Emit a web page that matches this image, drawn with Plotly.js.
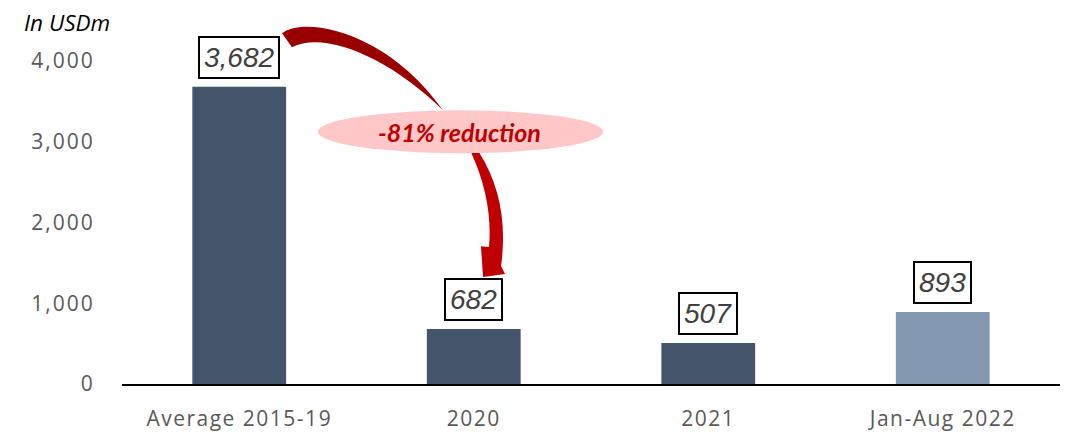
<!DOCTYPE html>
<html>
<head>
<meta charset="utf-8">
<script src="https://cdn.plot.ly/plotly-3.0.1.min.js"></script>
<style>
html,body{margin:0;padding:0;background:#fff;}
#chart{width:1069px;height:435px;}
#chart .xtick text{letter-spacing:1.5px;}
#chart .ytick text{letter-spacing:2px;}
</style>
</head>
<body>
<div id="chart"></div>
<script>
var categories = ["Average 2015-19", "2020", "2021", "Jan-Aug 2022"];
var values = [3682, 682, 507, 893];
var labels = ["3,682", "682", "507", "893"];
var barColors = ["#44546a", "#44546a", "#44546a", "#8497b0"];
var yTickVals = [0, 1000, 2000, 3000, 4000];
var yTickText = ["0", "1,000", "2,000", "3,000", "4,000"];
var unitLabel = "In USDm";
var reductionLabel = "-81% reduction";

var W = 1069, H = 435;
var L = 122, R = 1060, T = 60.7, B = 384;
function px(x){ return ((x - L) / (R - L)).toFixed(4); }
function py(y){ return ((B - y) / (B - T)).toFixed(4); }
function P(x, y){ return px(x) + "," + py(y); }

var upperArrow = "M" + P(282,33) + " C" + P(302,16) + " " + P(385,28) + " " + P(443,110) +
  " C" + P(390,58) + " " + P(325,30) + " " + P(292,47) + " Z";
var lowerArrow = "M" + P(471,152) + " Q" + P(493,200) + " " + P(489,247) +
  " L" + P(481,246) + " L" + P(483,277) + " L" + P(505,274) + " L" + P(501,266) +
  " Q" + P(510,201) + " " + P(479,152) + " Z";

var trace = {
  type: "bar",
  x: categories,
  y: values,
  marker: {color: barColors, line: {width: 0}},
  hoverinfo: "none"
};

var annotations = categories.map(function(c, i){
  return {
    x: i, y: values[i], xref: "x", yref: "y",
    text: labels[i], showarrow: false,
    yanchor: "bottom", yshift: 8,
    bordercolor: "#000000", borderwidth: 2, borderpad: 4, bgcolor: "#ffffff",
    font: {family: "Liberation Sans, Arial, sans-serif", size: 28, color: "#404040", style: "italic"}
  };
});
annotations.push({
  xref: "paper", yref: "paper", x: px(22), y: py(22), xanchor: "left", yanchor: "middle",
  text: unitLabel, showarrow: false,
  font: {family: "Open Sans, sans-serif", size: 22.5, color: "#000000", style: "italic"}
});
annotations.push({
  xref: "paper", yref: "paper", x: px(460), y: py(132), xanchor: "center", yanchor: "middle",
  text: "<b><i>" + reductionLabel + "</i></b>", showarrow: false,
  font: {family: "Lato, sans-serif", size: 25, color: "#c00000"}
});

var shapes = [
  {type: "path", xref: "paper", yref: "paper", path: upperArrow, fillcolor: "#990000", line: {width: 0}},
  {type: "path", xref: "paper", yref: "paper", path: lowerArrow, fillcolor: "#c00000", line: {width: 0}},
  {type: "circle", xref: "paper", yref: "paper", x0: px(318), x1: px(603), y0: py(153), y1: py(110),
   fillcolor: "#ffc7c7", line: {width: 0}}
];

var layout = {
  width: W, height: H,
  margin: {l: L, r: W - R, t: T, b: H - B, pad: 0},
  paper_bgcolor: "#ffffff", plot_bgcolor: "#ffffff",
  showlegend: false,
  bargap: 0.6,
  xaxis: {
    type: "category", range: [-0.5, 3.5],
    showline: true, linecolor: "#000000", linewidth: 2,
    showgrid: false, zeroline: false,
    ticks: "outside", ticklen: 15, tickcolor: "rgba(0,0,0,0)",
    tickfont: {family: "Open Sans, sans-serif", size: 21, color: "#595959"}
  },
  yaxis: {
    range: [0, 4000], showgrid: false, zeroline: false, showline: false,
    tickvals: yTickVals, ticktext: yTickText,
    ticks: "outside", ticklen: 22, tickcolor: "rgba(0,0,0,0)",
    tickfont: {family: "Open Sans, sans-serif", size: 21, color: "#595959"}
  },
  annotations: annotations,
  shapes: shapes
};

Plotly.newPlot("chart", [trace], layout, {displayModeBar: false, staticPlot: true});
</script>
</body>
</html>
